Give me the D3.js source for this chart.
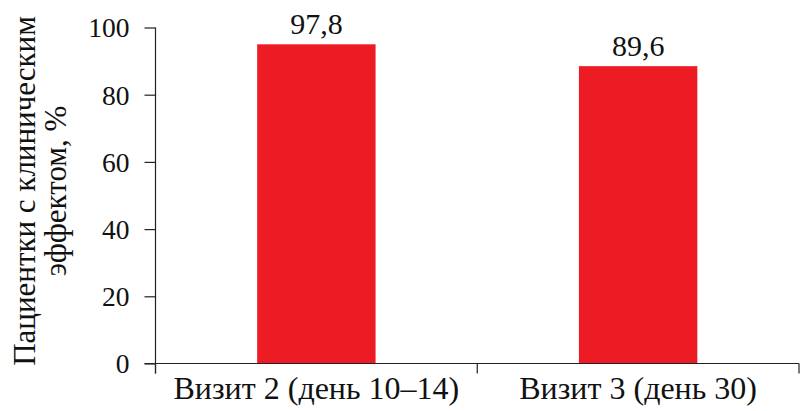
<!DOCTYPE html>
<html><head><meta charset="utf-8">
<script src="https://cdn.jsdelivr.net/npm/d3@7/dist/d3.min.js"></script>
</head><body style="margin:0;background:#fff">
<svg id="chart" width="800" height="411" style="display:block"></svg>
<script>
const categories = ["Визит 2 (день 10–14)", "Визит 3 (день 30)"];
const barValues = [95.0, 88.5];           // bar heights as drawn
const valueLabels = ["97,8", "89,6"];     // printed value labels
const yTicks = [0, 20, 40, 60, 80, 100];
const yTitle = ["Пациентки с клиническим", "эффектом, %"];

const FF = '"Liberation Serif"';
const svg = d3.select("#chart");
const x0 = 155.5, x1 = 799, yTop = 27.5, yBot = 363.5;

const x = d3.scaleBand().domain(categories).range([x0, x1]).paddingInner(0.632).paddingOuter(0.316);
const y = d3.scaleLinear().domain([0, 100]).range([yBot, yTop]);

// bars
svg.selectAll("rect.bar").data(categories).join("rect")
  .attr("class", "bar")
  .attr("x", d => x(d))
  .attr("y", (d, i) => y(barValues[i]))
  .attr("width", x.bandwidth())
  .attr("height", (d, i) => y(0) - y(barValues[i]))
  .attr("fill", "#ED1C24");

// y axis
const yAxis = d3.axisLeft(y).tickValues(yTicks).tickSize(11).tickPadding(15).tickFormat(d3.format("d"));
const gy = svg.append("g").attr("transform", `translate(${x0},0)`).call(yAxis);
gy.select(".domain").attr("stroke", "#222").attr("stroke-width", 1.2).attr("d", `M0,${yTop}V${yBot+10}`);
gy.selectAll(".tick line").attr("stroke", "#222").attr("stroke-width", 1.2);
gy.selectAll(".tick text").style("font-family", FF).style("font-size", "27.5px").attr("fill", "#111").attr("dy", "0.34em");

// x axis
const gx = svg.append("g").attr("transform", `translate(0,${yBot})`);
gx.append("line").attr("x1", x0 - 11).attr("x2", x1).attr("y1", 0).attr("y2", 0)
  .attr("stroke", "#222").attr("stroke-width", 1.2);
const bounds = [x0].concat(categories.map(c => x(c) - x.step()*x.paddingInner()/2 + x.step()));
bounds.forEach(b => gx.append("line").attr("x1", b).attr("x2", b).attr("y1", 0).attr("y2", 10)
  .attr("stroke", "#222").attr("stroke-width", 1.2));
gx.selectAll("text.cat").data(categories).join("text")
  .attr("class", "cat")
  .attr("x", d => x(d) + x.bandwidth()/2)
  .attr("y", 35.5)
  .attr("text-anchor", "middle")
  .attr("fill", "#111")
  .style("font-family", FF).style("font-size", "32px")
  .text(d => d);

// value labels
svg.selectAll("text.val").data(categories).join("text")
  .attr("class", "val")
  .attr("x", d => x(d) + x.bandwidth()/2)
  .attr("y", (d, i) => y(barValues[i]) - 10)
  .attr("text-anchor", "middle")
  .attr("fill", "#111")
  .style("font-family", FF).style("font-size", "30px")
  .text((d, i) => valueLabels[i]);

// y title
const t = svg.append("text")
  .attr("transform", `translate(35,191) rotate(-90)`)
  .attr("text-anchor", "middle")
  .attr("fill", "#111")
  .style("font-family", FF).style("font-size", "31px");
t.append("tspan").attr("x", 0).attr("dy", 0).text(yTitle[0]);
t.append("tspan").attr("x", 0).attr("dy", 31).text(yTitle[1]);
</script>
</body></html>
